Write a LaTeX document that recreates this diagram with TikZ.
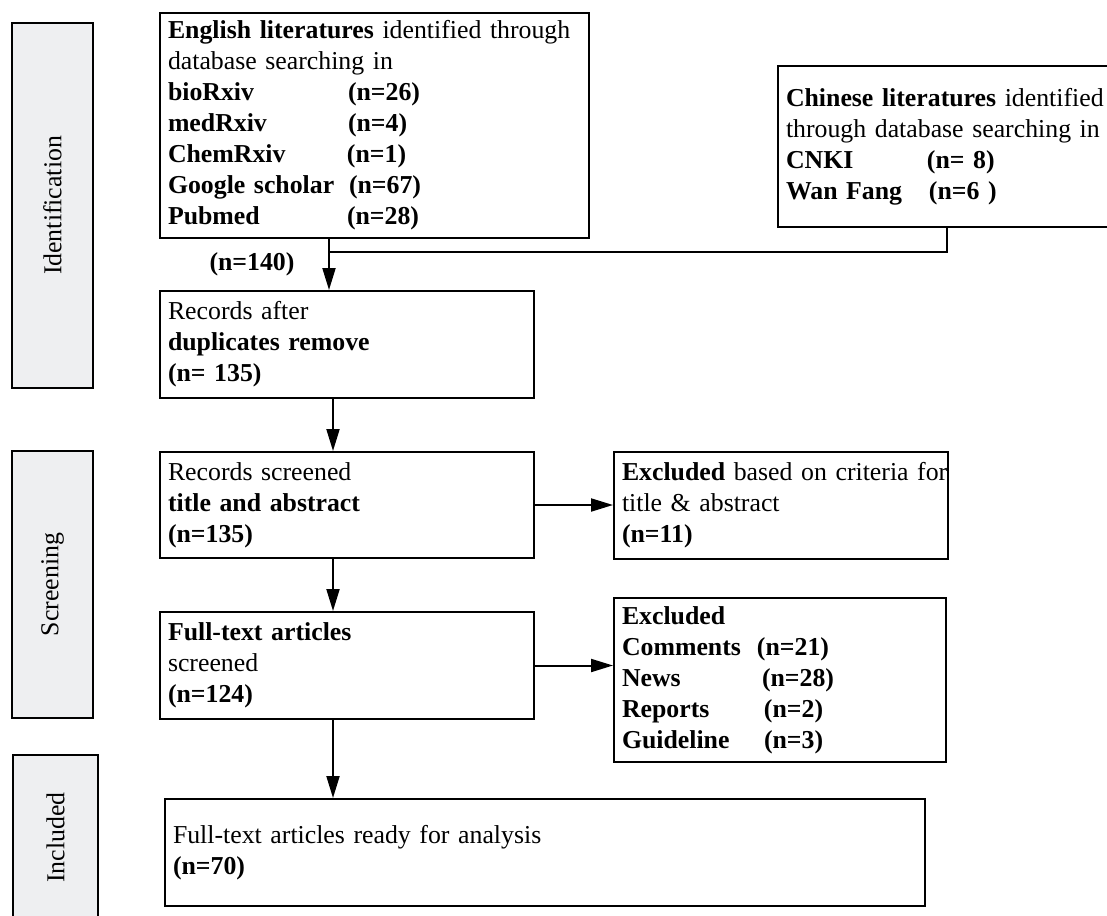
\documentclass[tikz,border=0pt]{standalone}
\usepackage{fontspec}
\setmainfont{Liberation Serif}
\usepackage{xcolor}
\usepackage{tikz}
\usetikzlibrary{arrows.meta,positioning}
\definecolor{prgray}{RGB}{238,239,241}
\newcommand{\prfont}{\fontsize{12.9pt}{15.5pt}\selectfont}
\newcommand{\prrow}[3]{\makebox[#1][l]{\textbf{#2}}\textbf{#3}}
\tikzset{
  prnode/.style={draw=black, line width=1pt, anchor=north west, align=left,
    inner xsep=4pt, inner ysep=2pt, font=\prfont},
  prside/.style={draw=black, line width=1pt, fill=prgray, rotate=90,
    inner sep=0pt, font=\prfont},
  prarrow/.style={-{Triangle[length=11pt,width=6.5pt]}, line width=1pt},
  prline/.style={line width=1pt}
}

\begin{document}
\begin{tikzpicture}[x=0.5pt,y=-0.5pt]
  \useasboundingbox (0,0) rectangle (1107,915);
  % stage bars
  \node[prside, minimum width=182.5pt, minimum height=40.5pt] (sI) at (52.5,205.5) {Identification};
  \node[prside, minimum width=133.5pt, minimum height=40.5pt] (sS) at (52.5,584.5) {Screening};
  \node[prside, minimum width=82.5pt, minimum height=42.5pt] (sN) at (55.5,837.5) {Included};
  % boxes
  \node[prnode, text width=206.5pt, minimum height=112.5pt] (mE) at (159,12)
    {\mbox{\textbf{English literatures} identified through}\\database searching in\\
     \prrow{90pt}{bioRxiv}{(n=26)}\\\prrow{90pt}{medRxiv}{(n=4)}\\
     \prrow{89.5pt}{ChemRxiv}{(n=1)}\\\prrow{90.5pt}{Google scholar}{(n=67)}\\
     \prrow{89.5pt}{Pubmed}{(n=28)}};
  \node[prnode, text width=163.5pt, minimum height=80.5pt] (mC) at (777,65)
    {\textbf{Chinese literatures} identified\\\mbox{through database searching in}\\
     \prrow{70.5pt}{CNKI}{(n= 8)}\\\prrow{71.5pt}{Wan Fang}{(n=6 )}};
  \node[font=\prfont\bfseries, inner sep=0pt] (nE) at (252,264) {(n=140)};
  \node[prnode, text width=179pt, minimum height=53.5pt] (mR) at (159,290)
    {Records after\\\textbf{duplicates remove}\\\textbf{(n= 135)}};
  \node[prnode, text width=179pt, minimum height=53pt] (mS) at (159,451)
    {Records screened\\\textbf{title and abstract}\\\textbf{(n=135)}};
  \node[prnode, text width=159pt, minimum height=53.5pt] (mX1) at (613,451)
    {\mbox{\textbf{Excluded} based on criteria for}\\title \& abstract\\\textbf{(n=11)}};
  \node[prnode, text width=179pt, minimum height=53.5pt] (mF) at (159,611)
    {\textbf{Full-text articles}\\screened\\\textbf{(n=124)}};
  \node[prnode, text width=158pt, minimum height=82pt] (mX2) at (613,597)
    {\textbf{Excluded}\\\prrow{67.5pt}{Comments}{(n=21)}\\\prrow{70pt}{News}{(n=28)}\\
     \prrow{71pt}{Reports}{(n=2)}\\\prrow{71pt}{Guideline}{(n=3)}};
  \node[prnode, text width=372pt, minimum height=53.5pt] (mI) at (164,798)
    {Full-text articles ready for analysis\\\textbf{(n=70)}};
  % connectors
  \coordinate (jE) at (329,252);
  \coordinate (jC) at (947,252);
  \coordinate (jM) at (333,0);
  \draw[prline] (mC.south -| jC) -- (jC) -- (jE);
  \draw[prarrow] (mE.south -| jE) -- (mR.north -| jE);
  \draw[prarrow] (mR.south -| jM) -- (mS.north -| jM);
  \draw[prarrow] (mS.east) -- (mX1.west |- mS.east);
  \draw[prarrow] (mS.south -| jM) -- (mF.north -| jM);
  \draw[prarrow] (mF.east) -- (mX2.west |- mF.east);
  \draw[prarrow] (mF.south -| jM) -- (mI.north -| jM);
\end{tikzpicture}
\end{document}
